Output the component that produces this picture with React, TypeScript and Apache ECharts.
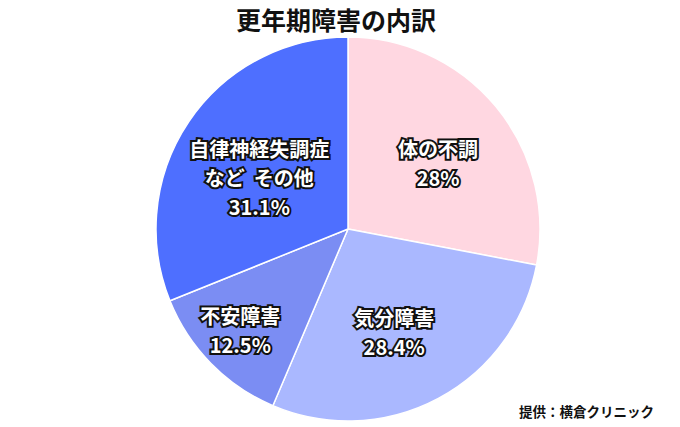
import React, { useEffect, useRef } from "react";
import * as echarts from "echarts";

const titleText = "更年期障害の内訳";
const sourceText = "提供：横倉クリニック";
const categories = ["体の不調", "気分障害", "不安障害", "自律神経失調症\nなど  その他"];
const values = [28, 28.4, 12.5, 31.1];
const colors = ["#FFD7E1", "#AAB8FF", "#7B8DF3", "#4E6FFF"];
const labelOffsets: [number, number][] = [
  [3, 6],
  [-7, 3],
  [-27, 22],
  [5, 12],
];

export default function App() {
  const ref = useRef<HTMLDivElement>(null);
  useEffect(() => {
    if (!ref.current) return;
    const chart = echarts.init(ref.current, undefined, { renderer: "svg" });
    const font = "'Noto Sans CJK JP', 'Noto Sans', sans-serif";
    const baseData = categories.map((name, i) => ({
      name,
      value: values[i],
      itemStyle: { color: colors[i] },
    }));
    const labelData = categories.map((name, i) => ({
      name,
      value: values[i],
      label: { offset: labelOffsets[i] },
    }));
    chart.setOption({
      animation: false,
      title: {
        text: titleText,
        left: 231,
        top: 1,
        textStyle: { fontFamily: font, fontWeight: "bold", fontSize: 25, color: "#111" },
      },
      graphic: [
        {
          type: "text",
          left: 519,
          top: 404,
          style: {
            text: sourceText,
            font: `bold 13.5px ${font}`,
            fill: "#111",
          },
        },
      ],
      series: [
        {
          type: "pie",
          center: [348, 229],
          radius: [0, 192],
          startAngle: 90,
          clockwise: true,
          label: { show: false },
          labelLine: { show: false },
          itemStyle: { borderColor: "#ffffff", borderWidth: 1.5 },
          emphasis: { disabled: true },
          data: baseData,
        },
        {
          type: "pie",
          center: [348, 229],
          radius: [0, 220],
          startAngle: 90,
          clockwise: true,
          silent: true,
          itemStyle: { color: "rgba(0,0,0,0)" },
          emphasis: { disabled: true },
          labelLine: { show: false },
          label: {
            show: true,
            position: "inside",
            formatter: (p: any) => `${p.name}\n${p.value}%`,
            fontFamily: font,
            fontWeight: "bold",
            fontSize: 20,
            lineHeight: 29,
            color: "#ffffff",
            textBorderColor: "#111111",
            textBorderWidth: 4,
            align: "center",
          },
          data: labelData,
        },
      ],
    });
    return () => chart.dispose();
  }, []);
  return <div ref={ref} style={{ width: 680, height: 427, position: "absolute", left: 0, top: 0 }} />;
}
